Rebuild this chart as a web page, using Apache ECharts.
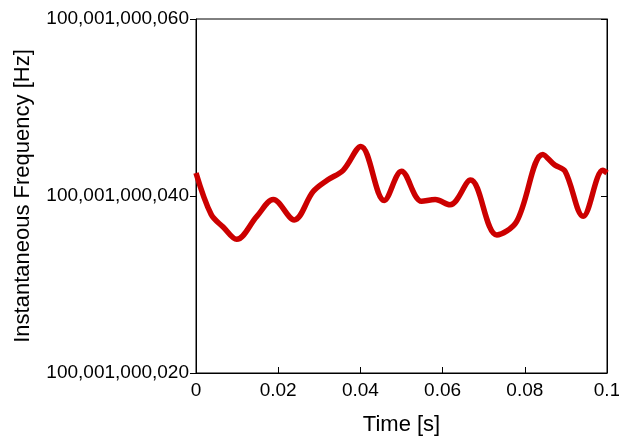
<!DOCTYPE html>
<html><head><meta charset="utf-8">
<script src="https://cdn.jsdelivr.net/npm/echarts@6/dist/echarts.min.js"></script>
<style>html,body{margin:0;padding:0;background:#fff}#c{width:619px;height:440px}</style>
</head><body><div id="c"></div>
<script>
const BASE = 100001000000;
const times = [0, 0.0037, 0.0066, 0.0099, 0.0148, 0.0188, 0.0239, 0.0285, 0.0320, 0.0358, 0.0401, 0.0458, 0.0500, 0.0549, 0.0582, 0.0618, 0.0668, 0.0732, 0.0780, 0.0844, 0.0873, 0.0898, 0.0942, 0.0990, 0.1];
const offsets = [42.6, 37.9, 36.5, 35.1, 37.7, 39.6, 37.3, 40.5, 41.8, 42.9, 45.6, 39.5, 42.8, 39.4, 39.6, 39.0, 41.8, 35.6, 37.1, 44.7, 43.5, 42.8, 37.7, 42.9, 42.6];
const yTicks = [BASE + 20, BASE + 40, BASE + 60];
const xTicks = [0, 0.02, 0.04, 0.06, 0.08, 0.1];

const data = times.map((t, i) => [t, BASE + offsets[i]]);
function fmtBig(v) {
  return Math.round(v).toString().replace(/\B(?=(\d{3})+(?!\d))/g, ',');
}
const chart = echarts.init(document.getElementById('c'));
const font = 'Liberation Sans, Arial, sans-serif';
chart.setOption({
  animation: false,
  grid: {left: 196, right: 12, top: 19, bottom: 67, show: true, borderColor: '#000', borderWidth: 1, containLabel: false, outerBoundsMode: 'none'},
  xAxis: {
    type: 'value', min: xTicks[0], max: xTicks[xTicks.length - 1], interval: 0.02,
    name: 'Time [s]', nameLocation: 'middle', nameGap: 41,
    nameTextStyle: {fontFamily: font, fontSize: 22, color: '#000'},
    axisLine: {lineStyle: {color: '#000'}},
    axisTick: {inside: true, length: 6, lineStyle: {color: '#000'}},
    axisLabel: {fontFamily: font, fontSize: 19, color: '#000', margin: 8, formatter: v => String(+v.toFixed(2))},
    splitLine: {show: false}
  },
  yAxis: [{
    type: 'value', min: yTicks[0], max: yTicks[2], interval: 20,
    name: 'Instantaneous Frequency [Hz]', nameLocation: 'middle', nameGap: 162,
    nameTextStyle: {fontFamily: font, fontSize: 22, color: '#000'},
    axisLine: {show: true, lineStyle: {color: '#000'}},
    axisTick: {show: true, inside: false, length: 6, lineStyle: {color: '#000'}},
    axisLabel: {fontFamily: font, fontSize: 19, color: '#000', margin: 7, formatter: fmtBig},
    splitLine: {show: false}
  }, {
    type: 'value', position: 'right', min: yTicks[0], max: yTicks[2], interval: 20,
    axisLine: {show: true, lineStyle: {color: '#000'}},
    axisTick: {show: true, inside: true, length: 6, lineStyle: {color: '#000'}},
    axisLabel: {show: false}, splitLine: {show: false}
  }],
  series: [{
    type: 'line', data: data, smooth: 0.35, showSymbol: false,
    lineStyle: {color: '#cc0000', width: 5.5}
  }]
});
</script></body></html>
